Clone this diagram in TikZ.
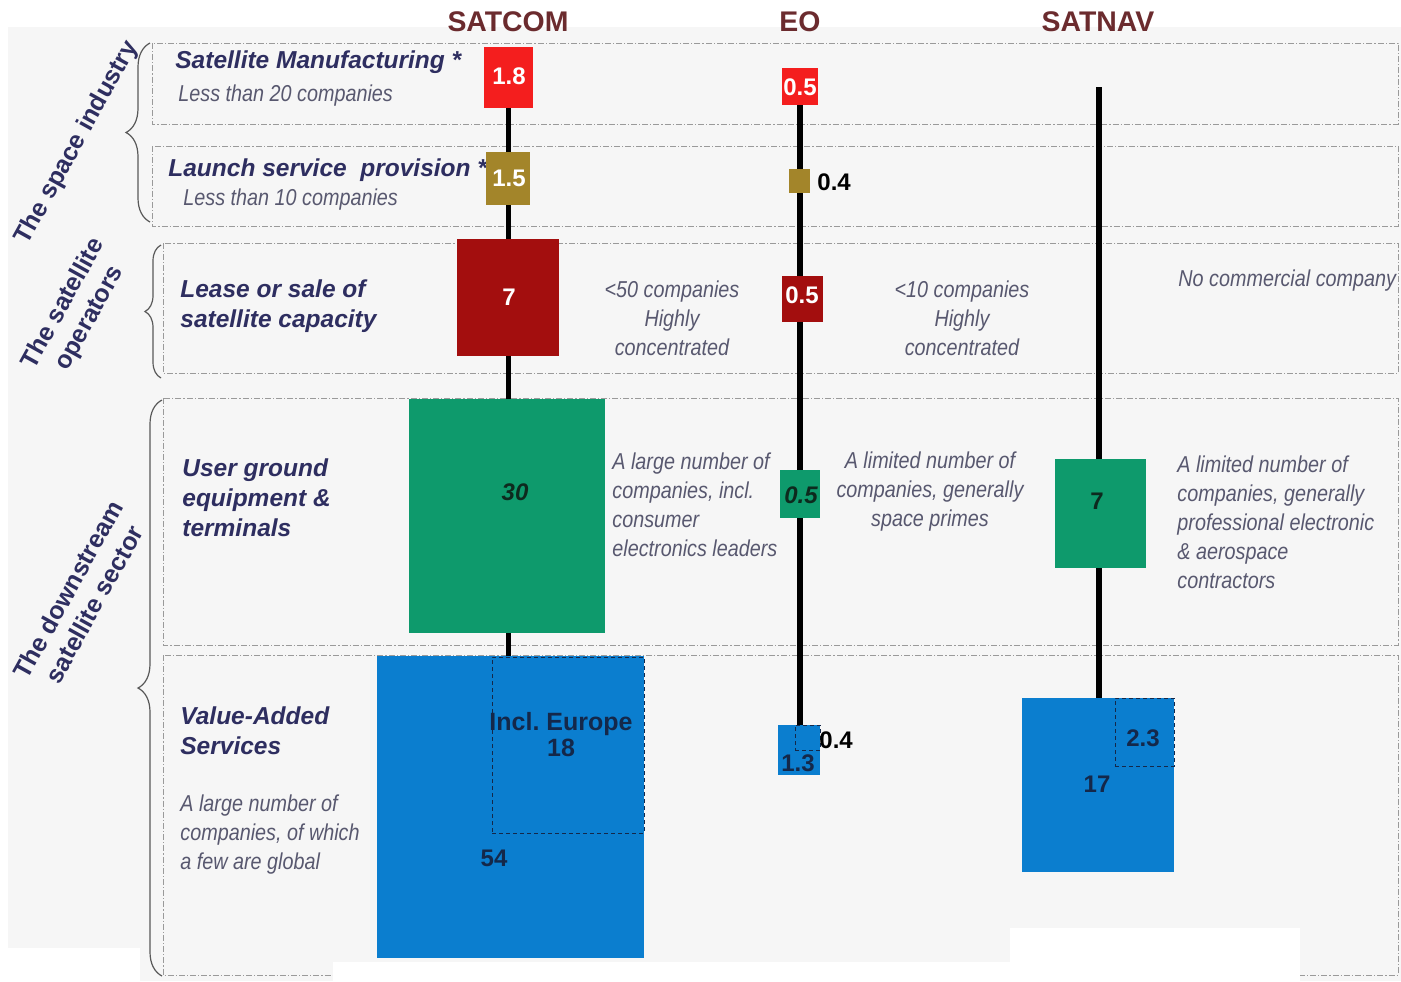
\documentclass[tikz,border=0pt]{standalone}
\usepackage{fontspec}
\setmainfont{Liberation Sans}
\newfontfamily\narrowfont{Liberation Sans}[FakeStretch=0.86]
\usetikzlibrary{decorations.pathreplacing}
\pgfdeclarelayer{bg}
\pgfdeclarelayer{mid}
\pgfsetlayers{bg,mid,main}
\frenchspacing
\definecolor{bgc}{HTML}{F6F6F6}
\definecolor{headc}{HTML}{6B2B2E}
\definecolor{navy}{HTML}{2E2E60}
\definecolor{grayt}{HTML}{58586F}
\definecolor{redc}{HTML}{F41E1E}
\definecolor{olivec}{HTML}{A3852A}
\definecolor{dredc}{HTML}{A30E0E}
\definecolor{greenc}{HTML}{0E9A6C}
\definecolor{bluec}{HTML}{0B7ECF}
\definecolor{dashc}{HTML}{9A9A9A}
\definecolor{darkg}{HTML}{0D2A1E}
\definecolor{darkb}{HTML}{14284A}
\tikzset{
  region/.style={draw=dashc, line width=0.5pt, dash pattern=on 3pt off 1pt on 0.6pt off 1pt},
  blockbox/.style={inner sep=0pt, outer sep=0pt, draw=none},
  innerdash/.style={draw=darkb, line width=0.5pt, dash pattern=on 2pt off 1.5pt, inner sep=0pt, outer sep=0pt},
  stem/.style={line width=2.6pt, black},
  lbl/.style={font=\bfseries\itshape\fontsize{12.25}{15}\selectfont, text=navy, inner sep=0pt, align=left},
  note/.style={font=\narrowfont\itshape\fontsize{11.5}{14.5}\selectfont, text=grayt, inner sep=0pt},
  num/.style={font=\bfseries\fontsize{12}{13}\selectfont, inner sep=0pt},
  head/.style={font=\bfseries\fontsize{14.2}{16}\selectfont, text=headc, inner sep=0pt},
  side/.style={font=\bfseries\fontsize{12.5}{15}\selectfont, text=navy, inner sep=0pt, align=center},
  brc/.style={decorate, decoration={brace, amplitude=#1}, draw=black!65, line width=0.6pt},
}
\newcommand\mkblock[6]{\node[blockbox, fill=#2, minimum width={(#5-#3)*0.5pt}, minimum height={(#6-#4)*0.5pt}] (#1) at ({(#3+#5)/2},{(#4+#6)/2}) {};}
\newcommand\mkdashbox[5]{\node[innerdash, minimum width={(#4-#2)*0.5pt}, minimum height={(#5-#3)*0.5pt}] (#1) at ({(#2+#4)/2},{(#3+#5)/2}) {};}
\begin{document}
\begin{tikzpicture}[x=0.5pt,y=-0.5pt]
\useasboundingbox (0,0) rectangle (1401,981);
\begin{pgfonlayer}{bg}
  \fill[white] (0,0) rectangle (1401,981);
  \fill[bgc] (8,27) rectangle (1401,981);
  % dashed regions
  \draw[region] (152,43) rectangle (1398,124);
  \draw[region] (152,146) rectangle (1398,226);
  \draw[region] (163,243) rectangle (1398,373);
  \draw[region] (163,398) rectangle (1398,645);
  \draw[region] (163,655) rectangle (1398,975);
  % white patches at the bottom
  \fill[white] (8,948) rectangle (140,981);
  \fill[white] (333,962) rectangle (1260,981);
  \fill[white] (1010,928) rectangle (1300,981);
\end{pgfonlayer}

% column headings
\node[head] (hsat) at (508,22) {SATCOM};
\node[head] (heo) at (800,22) {EO};
\node[head] (hnav) at (1098,22) {SATNAV};

% braces and side titles
\coordinate (b1a) at (150,222); \coordinate (b1b) at (150,43);
\coordinate (b2a) at (161,378); \coordinate (b2b) at (161,245);
\coordinate (b3a) at (162,976); \coordinate (b3b) at (162,400);
\draw[brc=12pt] (b1a) -- (b1b);
\draw[brc=8pt] (b2a) -- (b2b);
\draw[brc=12pt] (b3a) -- (b3b);
\node[side, rotate=61] (t1) at (77,143) {The space industry};
\node[side, rotate=61] (t2) at (77,311) {The satellite\\operators};
\node[side, rotate=61] (t3) at (81,597) {The downstream\\satellite sector};

% left labels
\node[lbl, anchor=west] (l1) at (175,62) {Satellite Manufacturing *};
\node[note, anchor=west] (l1n) at (178,96) {Less than 20 companies};
\node[lbl, anchor=west] (l2) at (168,170) {Launch service~ provision *};
\node[note, anchor=west] (l2n) at (183,200) {Less than 10 companies};
\node[lbl, anchor=west] (l3) at (180,306) {Lease or sale of\\satellite capacity};
\node[lbl, anchor=west] (l4) at (182,498) {User ground\\equipment \&\\terminals};
\node[lbl, anchor=west] (l5) at (180,731) {Value-Added\\Services};
\node[note, anchor=west, align=left] (l5n) at (180,835) {A large number of\\companies, of which\\a few are global};

% notes on the right
\node[note, align=center] (n3a) at (672,318) {<50 companies\\Highly\\concentrated};
\node[note, align=center] (n3b) at (962,318) {<10 companies\\Highly\\concentrated};
\node[note, anchor=west] (n3c) at (1178,281) {No commercial company};
\node[note, anchor=west, align=left] (n4a) at (612,505) {A large number of\\companies, incl.\\consumer\\electronics leaders};
\node[note, align=center] (n4b) at (930,492) {A limited number of\\companies, generally\\space primes};
\node[note, anchor=west, align=left] (n4c) at (1177,522) {A limited number of\\companies, generally\\professional electronic\\\& aerospace\\contractors};

% SATCOM blocks
\mkblock{s1}{redc}{484}{47}{533}{108}
\mkblock{s2}{olivec}{486}{152}{530}{205}
\mkblock{s3}{dredc}{457}{239}{559}{356}
\mkblock{s4}{greenc}{409}{399}{605}{633}
\mkblock{s5}{bluec}{377}{656}{644}{958}
\mkdashbox{s5e}{492}{657}{644}{833}
% EO blocks
\mkblock{e1}{redc}{782}{68}{818}{105}
\mkblock{e2}{olivec}{789}{169}{810}{193}
\mkblock{e3}{dredc}{782}{276}{823}{322}
\mkblock{e4}{greenc}{780}{470}{820}{518}
\mkblock{e5}{bluec}{778}{725}{820}{775}
\mkdashbox{e5e}{795}{725}{820}{750}
% SATNAV blocks
\mkblock{n4}{greenc}{1055}{459}{1146}{568}
\mkblock{n5}{bluec}{1022}{698}{1174}{872}
\mkdashbox{n5e}{1115}{698}{1174}{766}

% stems behind blocks
\coordinate (ntop) at (1099,87);
\begin{pgfonlayer}{mid}
  \draw[stem] (s1.south) -- (s1.south |- s5.north);
  \draw[stem] (e1.south) -- (e1.south |- e5.north);
  \draw[stem] (ntop) -- (ntop |- n5.north);
\end{pgfonlayer}

% numbers
\node[num, text=white] (v1) at (509,76) {1.8};
\node[num, text=white] (v2) at (509,178) {1.5};
\node[num, text=white] (v3) at (509,297) {7};
\node[num, text=darkg, font=\bfseries\itshape\fontsize{12}{13}\selectfont] (v4) at (515,492) {30};
\node[num, text=darkb, align=center, font=\bfseries\fontsize{12.5}{13}\selectfont] (v5e) at (561,735) {Incl. Europe\\18};
\node[num, text=darkb] (v5) at (494,858) {54};
\node[num, text=white] (w1) at (800,87) {0.5};
\node[num, text=black, anchor=west] (w2) at (817,182) {0.4};
\node[num, text=white] (w3) at (802,295) {0.5};
\node[num, text=darkg, font=\bfseries\itshape\fontsize{12}{13}\selectfont] (w4) at (801,495) {0.5};
\node[num, text=black, anchor=west] (w5e) at (819,740) {0.4};
\node[num, text=darkb] (w5) at (798,763) {1.3};
\node[num, text=darkg] (x4) at (1097,501) {7};
\node[num, text=darkb] (x5e) at (1143,738) {2.3};
\node[num, text=darkb] (x5) at (1097,784) {17};
\end{tikzpicture}
\end{document}
